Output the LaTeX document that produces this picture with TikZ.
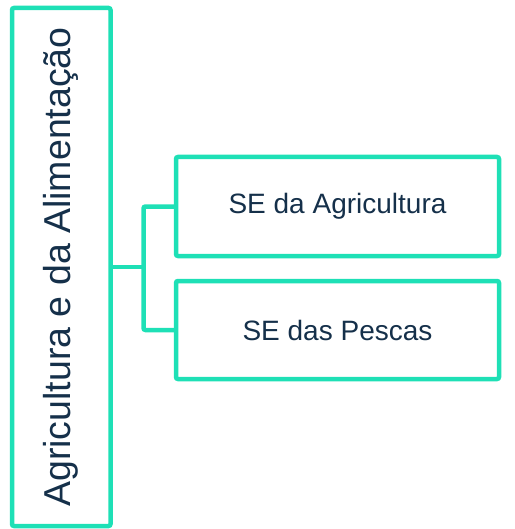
\documentclass[tikz,border=0pt]{standalone}
\usepackage{fontspec}
\setmainfont{Liberation Sans}
\definecolor{teal}{HTML}{1EE0B6}
\definecolor{ink}{HTML}{15304A}
\begin{document}
\begin{tikzpicture}[x=1pt,y=-1pt,
  box/.style={draw=teal,line width=4.5pt,rounded corners=2pt,inner sep=0pt,text=ink},
  link/.style={draw=teal,line width=4.5pt,rounded corners=2pt}]
\useasboundingbox (0,0) rectangle (514,529);
\node[box,rotate=90,minimum width=518pt,minimum height=98.5pt,font=\fontsize{37.5}{40}\selectfont] (main) at (61.25,267) {Agricultura e da Alimentação};
\node[box,minimum width=323pt,minimum height=99pt,font=\fontsize{28}{32}\selectfont] (b1) at (337.5,206.5) {SE da Agricultura};
\node[box,minimum width=323pt,minimum height=98pt,font=\fontsize{28}{32}\selectfont] (b2) at (337.5,330) {SE das Pescas};
\coordinate (j) at (143.5,267);
\draw[link] (main.south) -- (j);
\draw[link] (b1.west) -| (j) |- (b2.west);
\end{tikzpicture}
\end{document}
